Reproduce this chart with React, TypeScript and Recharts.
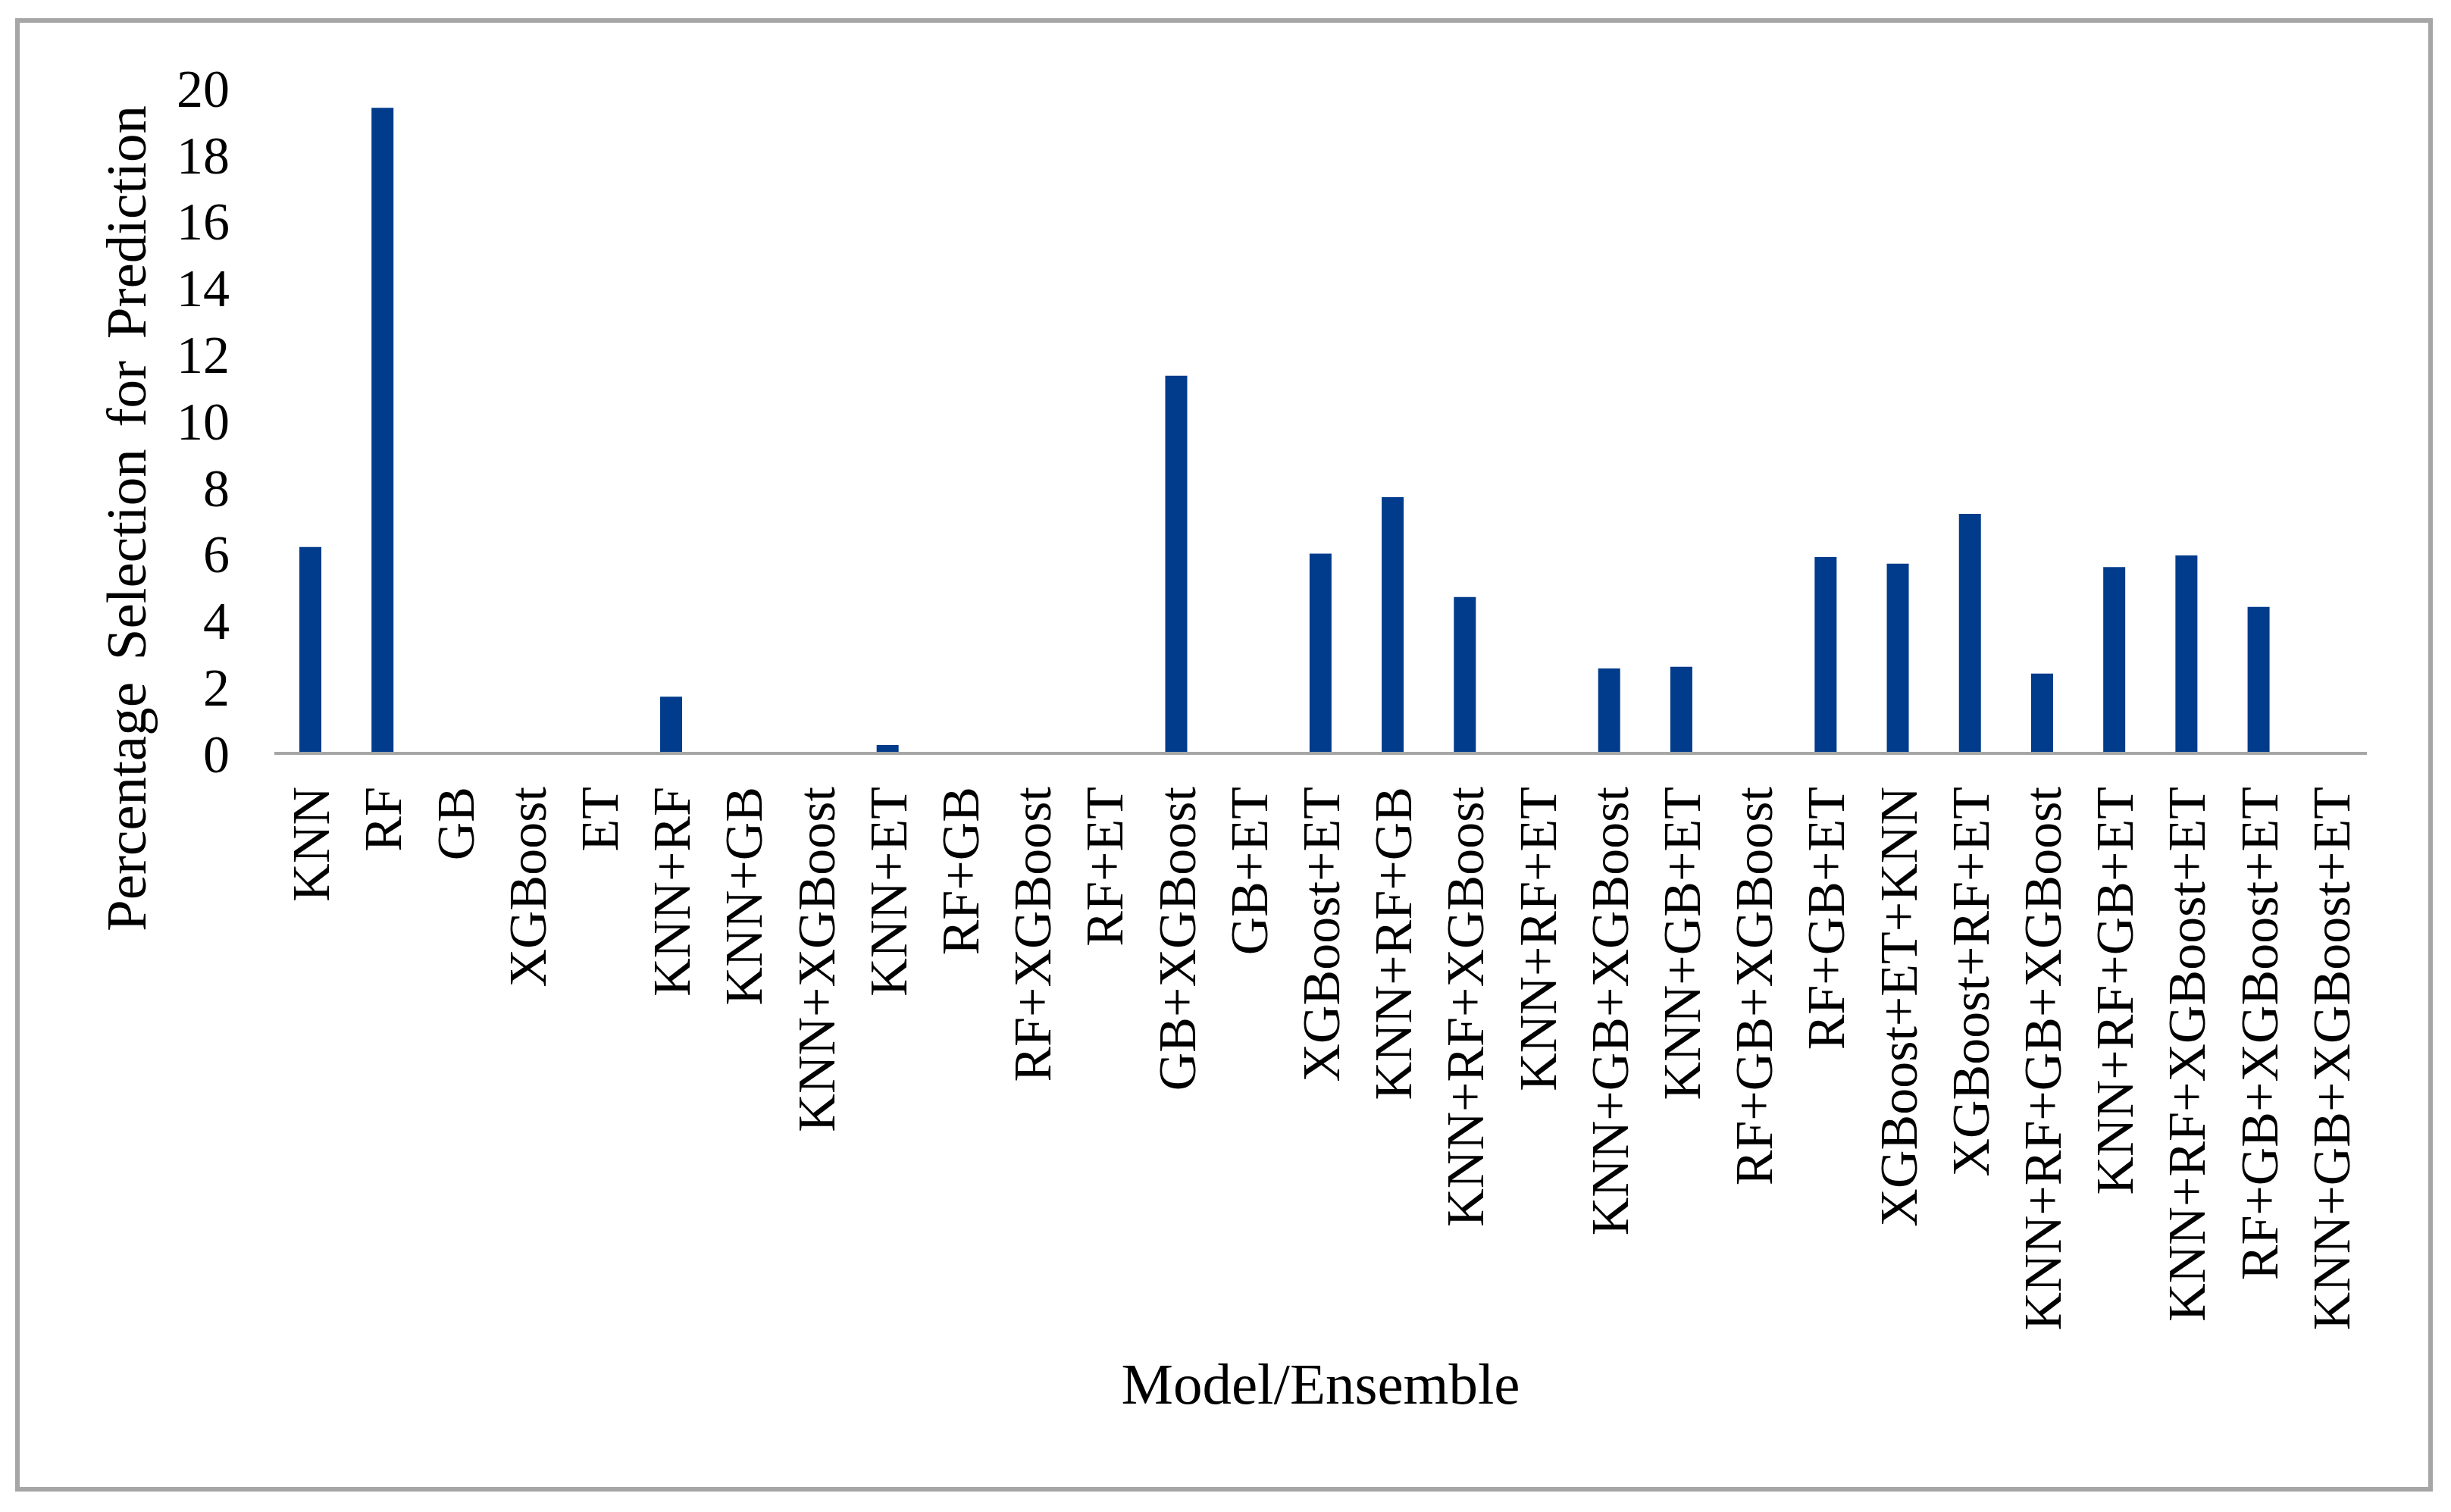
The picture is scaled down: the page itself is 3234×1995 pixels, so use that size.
import React from 'react';
import { BarChart, Bar, XAxis, YAxis, Label } from 'recharts';

const categories: string[] = [
  'KNN', 'RF', 'GB', 'XGBoost', 'ET',
  'KNN+RF', 'KNN+GB', 'KNN+XGBoost', 'KNN+ET',
  'RF+GB', 'RF+XGBoost', 'RF+ET', 'GB+XGBoost', 'GB+ET', 'XGBoost+ET',
  'KNN+RF+GB', 'KNN+RF+XGBoost', 'KNN+RF+ET', 'KNN+GB+XGBoost', 'KNN+GB+ET',
  'RF+GB+XGBoost', 'RF+GB+ET', 'XGBoost+ET+KNN', 'XGBoost+RF+ET',
  'KNN+RF+GB+XGBoost', 'KNN+RF+GB+ET', 'KNN+RF+XGBoost+ET', 'RF+GB+XGBoost+ET', 'KNN+GB+XGBoost+ET',
];

const percentages: number[] = [
  6.2, 19.4, 0, 0, 0,
  1.7, 0, 0, 0.25,
  0, 0, 0, 11.35, 0, 6.0,
  7.7, 4.7, 0, 2.55, 2.6,
  0, 5.9, 5.7, 7.2,
  2.4, 5.6, 5.95, 4.4, 0,
];

const yTicks: number[] = [0, 2, 4, 6, 8, 10, 12, 14, 16, 18, 20];

const xTitle = 'Model/Ensemble';
const yTitle = 'Percentage Selection for Prediction';

const data = categories.map((name, i) => ({ name, value: percentages[i] }));

const FONT = '"Liberation Serif", "Times New Roman", serif';
const BAR_COLOR = '#003b8c';
const GREY = '#a6a6a6';

const XTick = (props: any) => {
  const { x, y, payload } = props;
  return (
    <text
      x={x}
      y={y}
      transform={`rotate(-90, ${x}, ${y})`}
      textAnchor="end"
      dy="0.35em"
      fontFamily={FONT}
      fontSize={70}
      fill="#000"
    >
      {payload.value}
    </text>
  );
};

const XTitle = (props: any) => {
  const vb = props.viewBox || {};
  const cx = vb.x + vb.width / 2;
  const by = vb.y + vb.height;
  return (
    <text x={cx} y={by} textAnchor="middle" fontFamily={FONT} fontSize={77} fill="#000">
      {xTitle}
    </text>
  );
};

const YTitle = (props: any) => {
  const vb = props.viewBox || {};
  const bx = 192;
  const cy = vb.y + vb.height / 2 + 129;
  return (
    <text
      x={bx}
      y={cy}
      transform={`rotate(-90, ${bx}, ${cy})`}
      textAnchor="middle"
      fontFamily={FONT}
      fontSize={75}
      wordSpacing={10}
      fill="#000"
    >
      {yTitle}
    </text>
  );
};

export default function App() {
  return (
    <div style={{ position: 'absolute', left: 0, top: 0, width: 3234, height: 1995, background: '#fff' }}>
      <div
        style={{
          position: 'absolute',
          left: 20,
          top: 24,
          width: 3190,
          height: 1944,
          boxSizing: 'border-box',
          border: `6px solid ${GREY}`,
        }}
      />
      <div style={{ position: 'absolute', left: 0, top: 0 }}>
        <BarChart
          width={3234}
          height={1995}
          data={data}
          margin={{ top: 116, right: 111, left: 0, bottom: 143 }}
        >
          <XAxis
            dataKey="name"
            interval={0}
            height={858}
            tickSize={0}
            tickMargin={44}
            tickLine={false}
            axisLine={{ stroke: GREY, strokeWidth: 4 }}
            tick={<XTick />}
          >
            <Label content={<XTitle />} />
          </XAxis>
          <YAxis
            type="number"
            domain={[0, 20]}
            ticks={yTicks}
            interval={0}
            width={362}
            tickSize={0}
            tickMargin={59}
            tickLine={false}
            axisLine={false}
            tick={{ fontFamily: FONT, fontSize: 70, fill: '#000' }}
          >
            <Label content={<YTitle />} />
          </YAxis>
          <Bar dataKey="value" fill={BAR_COLOR} barSize={29} isAnimationActive={false} />
        </BarChart>
      </div>
    </div>
  );
}
